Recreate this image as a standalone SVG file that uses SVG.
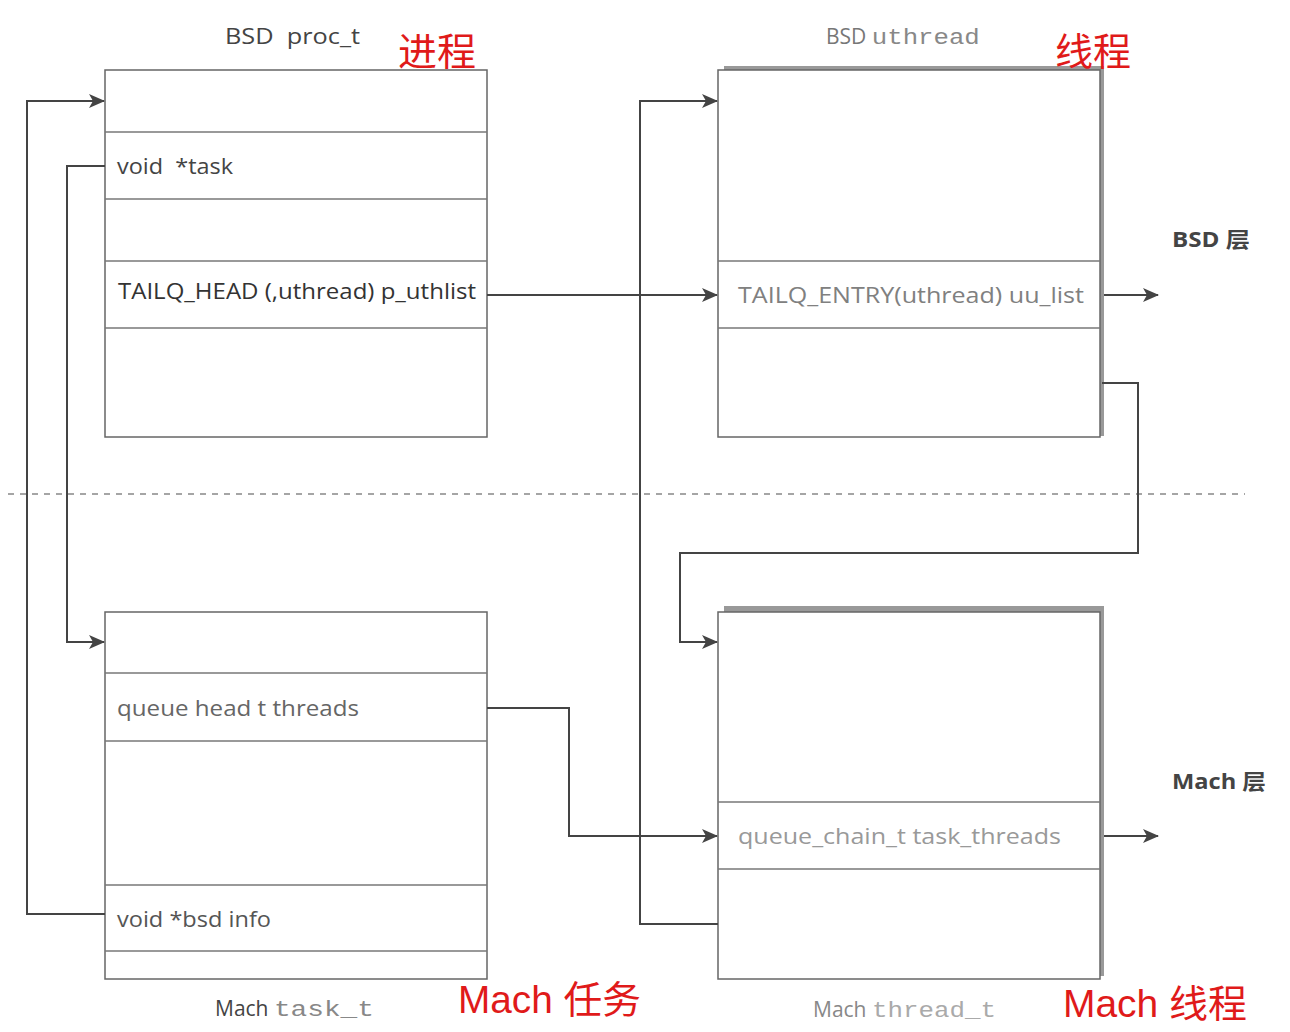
<svg xmlns="http://www.w3.org/2000/svg" width="1290" height="1032" viewBox="0 0 1290 1032">
<style>
.box{fill:#fff;stroke:#666;stroke-width:1.5}
.row{stroke:#777;stroke-width:1.5}
.shadow{fill:#999}
.conn{fill:none;stroke:#444;stroke-width:2}
.t{font-family:"Open Sans",Lato,"Liberation Sans",sans-serif;font-size:21px;fill:#333}
.tl{font-family:"Open Sans",Lato,"Liberation Sans",sans-serif;font-size:21px;fill:#808080}
.title{font-family:"Open Sans",Lato,"Liberation Sans",sans-serif;font-size:21px;fill:#444}
.mono{font-family:"Liberation Mono","DejaVu Sans Mono",monospace;font-size:22px;fill:#888}
.layer{font-family:"Open Sans",Lato,"Liberation Sans","Noto Sans CJK SC",sans-serif;font-size:21px;font-weight:bold;fill:#444}
.red{font-family:"Liberation Sans","Noto Sans CJK SC",sans-serif;font-size:38px;fill:#e01a1a}
.pre{white-space:pre}
</style>
<defs>
<marker id="arr" markerUnits="userSpaceOnUse" markerWidth="16" markerHeight="14" refX="15" refY="7" orient="auto">
<path d="M0,0 L16,7 L0,14 L4,7 z" fill="#444"/>
</marker>
</defs>

<line x1="8" y1="494" x2="1245" y2="494" stroke="#888" stroke-width="1.5" stroke-dasharray="6,6"/>

<g id="proc_t">
<rect class="box" x="105" y="70" width="382" height="367"/>
<line class="row" x1="105" y1="132" x2="487" y2="132"/>
<line class="row" x1="105" y1="199" x2="487" y2="199"/>
<line class="row" x1="105" y1="261" x2="487" y2="261"/>
<line class="row" x1="105" y1="328" x2="487" y2="328"/>
<text class="t pre" x="117" y="174" textLength="116" lengthAdjust="spacingAndGlyphs" style="fill:#444">void  *task</text>
<text class="t" x="118" y="299" textLength="358" lengthAdjust="spacingAndGlyphs">TAILQ_HEAD (,uthread) p_uthlist</text>
<text class="title pre" x="225" y="44" textLength="135" lengthAdjust="spacingAndGlyphs">BSD  proc_t</text>
<text class="red" x="398" y="65" textLength="78" lengthAdjust="spacingAndGlyphs">进程</text>
</g>

<g id="uthread">
<rect class="shadow" x="724" y="66" width="380" height="370"/>
<rect class="box" x="718" y="70" width="382" height="367"/>
<line class="row" x1="718" y1="261" x2="1100" y2="261"/>
<line class="row" x1="718" y1="328" x2="1100" y2="328"/>
<text class="tl" x="738" y="303" textLength="346" lengthAdjust="spacingAndGlyphs">TAILQ_ENTRY(uthread) uu_list</text>
<text class="title" x="826" y="44" style="fill:#777">BSD <tspan class="mono" textLength="108" lengthAdjust="spacingAndGlyphs">uthread</tspan></text>
<text class="red" x="1055" y="65" textLength="76" lengthAdjust="spacingAndGlyphs">线程</text>
</g>

<g id="task_t">
<rect class="box" x="105" y="612" width="382" height="367"/>
<line class="row" x1="105" y1="673" x2="487" y2="673"/>
<line class="row" x1="105" y1="741" x2="487" y2="741"/>
<line class="row" x1="105" y1="885" x2="487" y2="885"/>
<line class="row" x1="105" y1="951" x2="487" y2="951"/>
<text class="tl" x="117" y="716" style="fill:#666" textLength="242" lengthAdjust="spacingAndGlyphs">queue head t threads</text>
<text class="tl" x="117" y="927" style="fill:#555" textLength="154" lengthAdjust="spacingAndGlyphs">void *bsd info</text>
<text class="title" x="215" y="1016">Mach <tspan class="mono" textLength="100" lengthAdjust="spacingAndGlyphs">task_t</tspan></text>
<text class="red" x="458" y="1013" textLength="183" lengthAdjust="spacingAndGlyphs">Mach 任务</text>
</g>

<g id="thread_t">
<rect class="shadow" x="724" y="606" width="380" height="370"/>
<rect class="box" x="718" y="612" width="382" height="367"/>
<line class="row" x1="718" y1="802" x2="1100" y2="802"/>
<line class="row" x1="718" y1="869" x2="1100" y2="869"/>
<text class="tl" x="738" y="844" style="fill:#999" textLength="323" lengthAdjust="spacingAndGlyphs">queue_chain_t task_threads</text>
<text class="title" x="813" y="1017" style="fill:#888">Mach <tspan class="mono" style="fill:#aaa" textLength="124" lengthAdjust="spacingAndGlyphs">thread_t</tspan></text>
<text class="red" x="1063" y="1017" textLength="184" lengthAdjust="spacingAndGlyphs">Mach 线程</text>
</g>

<g id="layers">
<text class="layer" x="1172" y="247" textLength="78" lengthAdjust="spacingAndGlyphs">BSD 层</text>
<text class="layer" x="1172" y="789" textLength="94" lengthAdjust="spacingAndGlyphs">Mach 层</text>
</g>

<g id="connectors">
<path class="conn" d="M105,914 H27 V101 H104" marker-end="url(#arr)"/>
<path class="conn" d="M105,166 H67 V642 H104" marker-end="url(#arr)"/>
<path class="conn" d="M487,295 H717" marker-end="url(#arr)"/>
<path class="conn" d="M718,924 H640 V101 H717" marker-end="url(#arr)"/>
<path class="conn" d="M1102,383 H1138 V553 H680 V642 H717" marker-end="url(#arr)"/>
<path class="conn" d="M487,708 H569 V836 H717" marker-end="url(#arr)"/>
<path class="conn" d="M1104,295 H1158" marker-end="url(#arr)"/>
<path class="conn" d="M1104,836 H1158" marker-end="url(#arr)"/>
</g>
</svg>
